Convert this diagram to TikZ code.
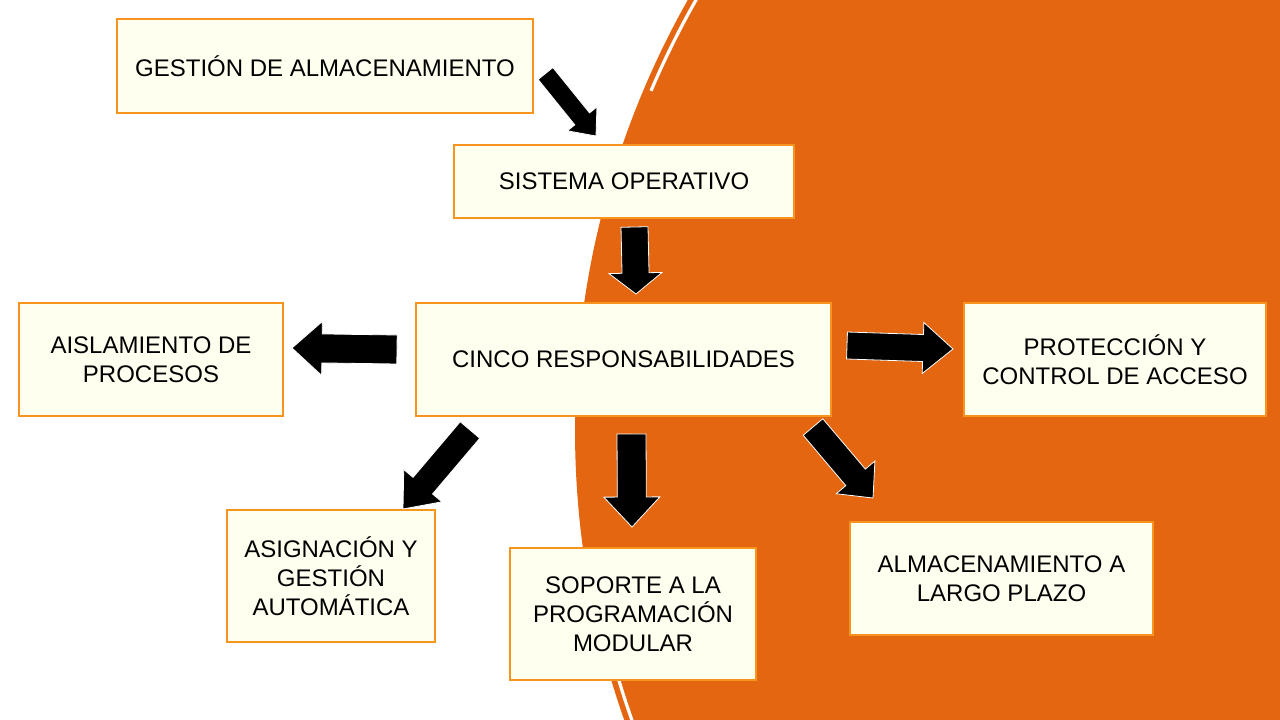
\documentclass[tikz,border=0pt]{standalone}
\usepackage{fontspec}
\setmainfont{Liberation Sans}
\usetikzlibrary{calc}
\definecolor{bgorange}{RGB}{228,102,17}
\definecolor{boxfill}{RGB}{255,255,240}
\definecolor{boxline}{RGB}{247,148,29}
\tikzset{
  card/.style={draw=boxline, line width=1pt, fill=boxfill, inner sep=0pt, align=center,
    font=\fontsize{18}{21.75}\selectfont, text=black},
  barrow/.style={fill=black, draw=white, line width=0.6pt, line join=miter}
}
\newcommand{\blockarrow}[5]{%
  \coordinate (#1-b) at ($(#2)!#5!(#1)$);
  \filldraw[barrow] ($(#1)!#3!90:(#2)$) -- ($(#1-b)!#3!90:(#2)$) -- ($(#1-b)!#4!90:(#2)$)
    -- (#2) -- ($(#1-b)!#4!-90:(#2)$) -- ($(#1-b)!#3!-90:(#2)$) -- ($(#1)!#3!-90:(#2)$) -- cycle;}
\begin{document}
\begin{tikzpicture}[x=0.75pt,y=-0.75pt]
\useasboundingbox (0,0) rectangle (1280,720);
\fill[white] (0,0) rectangle (1280,720);
\begin{scope}
  \clip (0,0) rectangle (1280,720);
  \fill[bgorange] (1450,430) circle[radius=656.25pt];
  \draw[white, line width=2.4pt] ($(1450,430)+(148:651pt)$) arc[start angle=148, end angle=157, radius=651pt];
  \draw[white, line width=2.4pt] ($(1450,430)+(188:651pt)$) arc[start angle=188, end angle=202, radius=651pt];
\end{scope}

\node[card, minimum width=312pt, minimum height=70.5pt] (g) at (325,66) {GESTIÓN DE ALMACENAMIENTO};
\node[card, minimum width=255pt, minimum height=54.75pt] (so) at (624,181.5) {SISTEMA OPERATIVO};
\node[card, minimum width=311.25pt, minimum height=84.75pt] (cr) at (623.5,359.5) {CINCO RESPONSABILIDADES};
\node[card, minimum width=198pt, minimum height=84.75pt] (ai) at (151,359.5) {AISLAMIENTO DE\\PROCESOS};
\node[card, minimum width=226.5pt, minimum height=84.75pt] (pc) at (1115,359.5) {PROTECCIÓN Y\\CONTROL DE ACCESO};
\node[card, minimum width=156pt, minimum height=99pt] (as) at (331,576) {ASIGNACIÓN Y\\GESTIÓN\\AUTOMÁTICA};
\node[card, minimum width=184.5pt, minimum height=99pt] (sp) at (633,614) {SOPORTE A LA\\PROGRAMACIÓN\\MODULAR};
\node[card, minimum width=227.25pt, minimum height=84.75pt] (al) at (1001.5,578.5) {ALMACENAMIENTO A\\LARGO PLAZO};

\coordinate (a1t) at (545.5,73.5);  \coordinate (a1h) at (596,136);
\coordinate (a2t) at (634.5,227);   \coordinate (a2h) at (636,294);
\coordinate (a3t) at (397,349.5);   \coordinate (a3h) at (292,348);
\coordinate (a4t) at (847,345.5);   \coordinate (a4h) at (953,349);
\coordinate (a5t) at (470,430);     \coordinate (a5h) at (403,509);
\coordinate (a6t) at (631.5,434);   \coordinate (a6h) at (632,527);
\coordinate (a7t) at (813,427);     \coordinate (a7h) at (873,498);

\blockarrow{a1t}{a1h}{7.125pt}{14.25pt}{16.5pt}
\blockarrow{a2t}{a2h}{10.125pt}{19.875pt}{15.75pt}
\blockarrow{a3t}{a3h}{10.875pt}{20.25pt}{22.5pt}
\blockarrow{a4t}{a4h}{10.125pt}{19.125pt}{22.5pt}
\blockarrow{a5t}{a5h}{9.6pt}{18.75pt}{22.95pt}
\blockarrow{a6t}{a6h}{10.875pt}{21pt}{22.5pt}
\blockarrow{a7t}{a7h}{9.6pt}{19pt}{20.25pt}
\end{tikzpicture}
\end{document}
